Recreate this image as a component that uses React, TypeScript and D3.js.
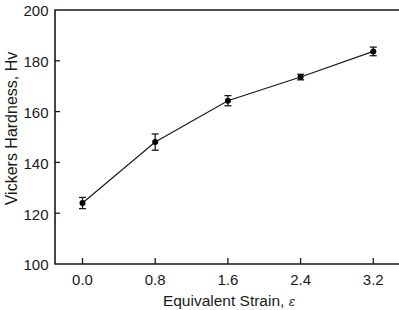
import * as d3 from "d3";
import React, { useEffect, useRef } from "react";

// Hardness vs. equivalent strain, with error bars
const strain = [0.0, 0.8, 1.6, 2.4, 3.2];
const hardness = [124, 148, 164.3, 173.6, 183.7];
const hardnessErr = [2.2, 3.2, 2.0, 1.1, 1.7];
const xTicks = [0.0, 0.8, 1.6, 2.4, 3.2];
const yTicks = [100, 120, 140, 160, 180, 200];

const App: React.FC = () => {
  const ref = useRef<SVGSVGElement>(null);

  useEffect(() => {
    if (!ref.current) return;
    const svg = d3.select(ref.current);
    svg.selectAll("*").remove();

    const width = 399,
      height = 310;
    const margin = { left: 55, top: 10, bottom: 46 };
    const font = "Liberation Sans, Arial, sans-serif";
    const ink = "#1a1a1a";

    const x = d3.scaleLinear().domain([0, 3.2]).range([82.5, 373.3]);
    const y = d3
      .scaleLinear()
      .domain([100, 200])
      .range([height - margin.bottom, margin.top]);

    const pts = strain.map((s, i) => ({ s, h: hardness[i], e: hardnessErr[i] }));

    // frame: left, top, bottom (runs off the right edge)
    const bottomY = y(100);
    const topY = y(200);
    svg
      .append("path")
      .attr("d", `M${width + 5},${topY}H${margin.left}V${bottomY}H${width + 5}`)
      .attr("fill", "none")
      .attr("stroke", ink)
      .attr("stroke-width", 1.6);

    // y axis ticks (inward) and labels
    const yAxis = svg.append("g");
    yAxis
      .selectAll("line")
      .data(yTicks.slice(1, -1))
      .join("line")
      .attr("x1", margin.left)
      .attr("x2", margin.left + 5)
      .attr("y1", (d) => y(d))
      .attr("y2", (d) => y(d))
      .attr("stroke", ink)
      .attr("stroke-width", 1.3);
    yAxis
      .selectAll("text")
      .data(yTicks)
      .join("text")
      .attr("x", margin.left - 6.5)
      .attr("y", (d) => y(d) + 1)
      .attr("dy", "0.36em")
      .attr("text-anchor", "end")
      .attr("font-family", font)
      .attr("font-size", 15)
      .attr("fill", ink)
      .text((d) => d);

    // x axis ticks (inward) and labels
    const xAxis = svg.append("g");
    xAxis
      .selectAll("line")
      .data(xTicks)
      .join("line")
      .attr("x1", (d) => x(d))
      .attr("x2", (d) => x(d))
      .attr("y1", bottomY)
      .attr("y2", bottomY - 6)
      .attr("stroke", ink)
      .attr("stroke-width", 1.3);
    xAxis
      .selectAll("text")
      .data(xTicks)
      .join("text")
      .attr("x", (d) => x(d))
      .attr("y", bottomY + 21)
      .attr("text-anchor", "middle")
      .attr("font-family", font)
      .attr("font-size", 15)
      .attr("fill", ink)
      .text((d) => d.toFixed(1));

    // axis titles
    const xTitle = svg
      .append("text")
      .attr("x", 229)
      .attr("y", 306)
      .attr("text-anchor", "middle")
      .attr("font-family", font)
      .attr("font-size", 15.5)
      .attr("fill", ink);
    xTitle.append("tspan").text("Equivalent Strain, ");
    xTitle
      .append("tspan")
      .attr("font-family", "DejaVu Serif, serif")
      .attr("font-style", "italic")
      .attr("font-size", 12)
      .text("ε");

    svg
      .append("text")
      .attr("transform", `translate(17,${(topY + bottomY) / 2 - 8.5}) rotate(-90)`)
      .attr("text-anchor", "middle")
      .attr("font-family", font)
      .attr("font-size", 16)
      .attr("fill", ink)
      .text("Vickers Hardness, Hv");

    // connecting line
    const line = d3
      .line<{ s: number; h: number }>()
      .x((d) => x(d.s))
      .y((d) => y(d.h));
    svg
      .append("path")
      .datum(pts)
      .attr("d", line)
      .attr("fill", "none")
      .attr("stroke", ink)
      .attr("stroke-width", 1.2);

    // error bars
    const eb = svg.append("g").attr("stroke", ink).attr("stroke-width", 1.3);
    pts.forEach((p) => {
      const cx = x(p.s);
      const y1 = y(p.h + p.e);
      const y2 = y(p.h - p.e);
      eb.append("line").attr("x1", cx).attr("x2", cx).attr("y1", y1).attr("y2", y2);
      eb.append("line").attr("x1", cx - 3.5).attr("x2", cx + 3.5).attr("y1", y1).attr("y2", y1);
      eb.append("line").attr("x1", cx - 3.5).attr("x2", cx + 3.5).attr("y1", y2).attr("y2", y2);
    });

    // markers
    svg
      .append("g")
      .selectAll("circle")
      .data(pts)
      .join("circle")
      .attr("cx", (d) => x(d.s))
      .attr("cy", (d) => y(d.h))
      .attr("r", 3)
      .attr("fill", "#000");
  }, []);

  return (
    <svg
      ref={ref}
      width={399}
      height={310}
      style={{ position: "absolute", left: 0, top: 0, background: "#fff" }}
    />
  );
};

export default App;
